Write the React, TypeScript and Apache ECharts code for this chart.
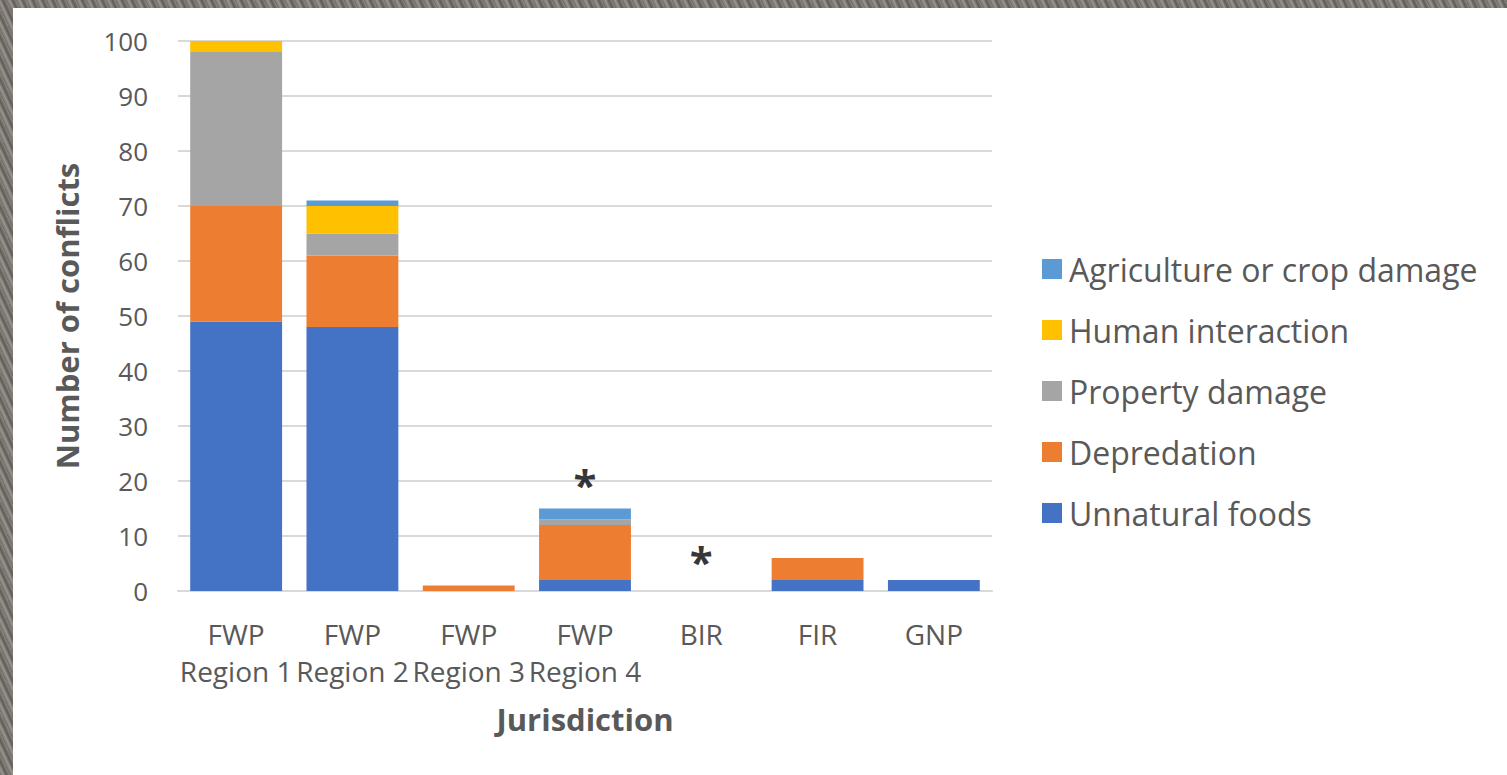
import React, { useEffect, useRef } from "react";
import * as echarts from "echarts";

const categories = ["FWP\nRegion 1", "FWP\nRegion 2", "FWP\nRegion 3", "FWP\nRegion 4", "BIR", "FIR", "GNP"];
const unnaturalFoods = [49, 48, 0, 2, 0, 2, 2];
const depredation = [21, 13, 1, 10, 0, 4, 0];
const propertyDamage = [28, 4, 0, 1, 0, 0, 0];
const humanInteraction = [2, 5, 0, 0, 0, 0, 0];
const agricultureCropDamage = [0, 1, 0, 2, 0, 0, 0];
const yTicks = { min: 0, max: 100, interval: 10 };
const asteriskNotes = [
  { category: "FWP\nRegion 4", value: 19.5 },
  { category: "BIR", value: 5.6 },
];

const seriesDefs = [
  { name: "Unnatural foods", data: unnaturalFoods, color: "#4472C4" },
  { name: "Depredation", data: depredation, color: "#ED7D31" },
  { name: "Property damage", data: propertyDamage, color: "#A5A5A5" },
  { name: "Human interaction", data: humanInteraction, color: "#FFC000" },
  { name: "Agriculture or crop damage", data: agricultureCropDamage, color: "#5B9BD5" },
];
const legendOrder = [
  "Agriculture or crop damage",
  "Human interaction",
  "Property damage",
  "Depredation",
  "Unnatural foods",
];

const FONT = "'Open Sans', 'Noto Sans', sans-serif";
const TXT = "#595959";

export default function App() {
  const ref = useRef<HTMLDivElement>(null);
  useEffect(() => {
    document.body.style.margin = "0";
    if (!ref.current) return;
    const chart = echarts.init(ref.current, null, { renderer: "svg" });
    chart.setOption({
      animation: false,
      backgroundColor: "#ffffff",
      textStyle: { fontFamily: FONT },
      grid: { left: 165, top: 33, width: 814, height: 550, containLabel: false },
      legend: {
        data: legendOrder,
        orient: "vertical",
        left: 1024,
        top: 240,
        itemWidth: 20,
        itemHeight: 20,
        itemGap: 29,
        icon: "rect",
        textStyle: { color: TXT, fontSize: 32, lineHeight: 32, fontFamily: FONT, padding: [0, 0, 0, 2] },
      },
      xAxis: {
        type: "category",
        data: categories,
        name: "Jurisdiction",
        nameLocation: "middle",
        nameGap: 112,
        nameTextStyle: { color: TXT, fontSize: 31, fontWeight: "bold", fontFamily: FONT },
        axisLine: { lineStyle: { color: "#D9D9D9", width: 2 } },
        axisTick: { show: false },
        axisLabel: {
          interval: 0,
          color: TXT,
          fontSize: 28,
          lineHeight: 37,
          margin: 24,
          fontFamily: FONT,
        },
      },
      yAxis: {
        type: "value",
        min: yTicks.min,
        max: yTicks.max,
        interval: yTicks.interval,
        name: "Number of conflicts",
        nameLocation: "middle",
        nameRotate: 90,
        nameGap: 96,
        nameTextStyle: { color: TXT, fontSize: 31, fontWeight: "bold", fontFamily: FONT },
        axisLine: { show: false },
        axisTick: { show: false },
        splitLine: { lineStyle: { color: "#D9D9D9", width: 2 } },
        axisLabel: { color: TXT, fontSize: 26, margin: 30, fontFamily: FONT },
      },
      series: [
        ...seriesDefs.map((s) => ({
          name: s.name,
          type: "bar",
          stack: "total",
          data: s.data,
          barWidth: "79%",
          itemStyle: { color: s.color },
        })),
        {
          name: "notes",
          type: "scatter",
          symbolSize: 0,
          data: asteriskNotes.map((n) => [n.category, n.value]),
          label: {
            show: true,
            position: "inside",
            formatter: "*",
            color: "#000000",
            fontSize: 42,
            fontWeight: "bold",
            fontFamily: FONT,
          },
          silent: true,
        },
      ],
    });
    return () => chart.dispose();
  }, []);

  return (
    <div
      style={{
        position: "fixed",
        left: 0,
        top: 0,
        width: 1507,
        height: 775,
        background:
          "repeating-linear-gradient(65deg, #6f6a66 0px, #9a958f 3px, #5e5a56 6px, #8c8781 9px)",
      }}
    >
      <div
        ref={ref}
        style={{ position: "absolute", left: 13, top: 8, width: 1494, height: 767, background: "#fff" }}
      />
    </div>
  );
}
